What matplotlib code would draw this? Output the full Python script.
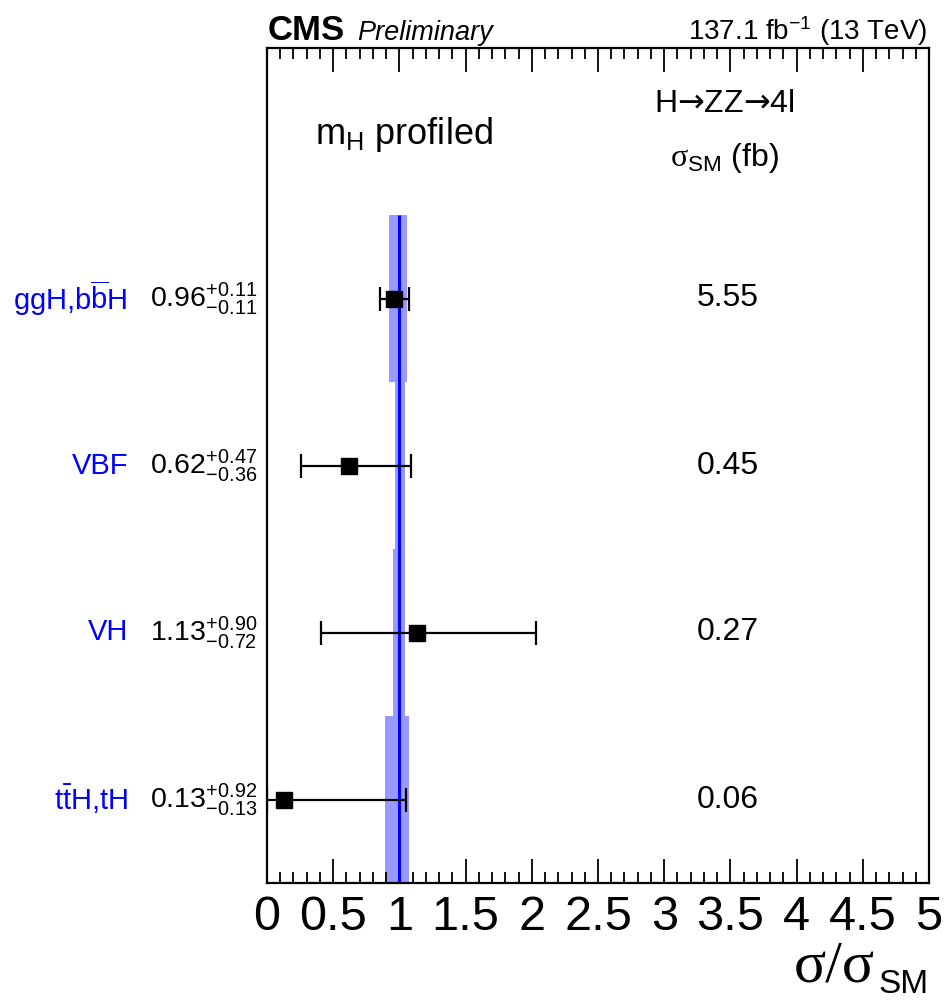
import matplotlib
matplotlib.use("Agg")
import matplotlib.pyplot as plt
from matplotlib.transforms import blended_transform_factory
from matplotlib.ticker import MultipleLocator

plt.rcParams['font.family'] = ['Liberation Sans', 'DejaVu Sans']
plt.rcParams['mathtext.fontset'] = 'custom'
plt.rcParams['mathtext.rm'] = 'Liberation Sans'
plt.rcParams['mathtext.it'] = 'Liberation Sans:italic'
plt.rcParams['mathtext.bf'] = 'Liberation Sans:bold'
plt.rcParams['mathtext.sf'] = 'DejaVu Sans'
plt.rcParams['mathtext.cal'] = 'Liberation Serif'

# ---- data (top to bottom) ----
categories = [r'ggH,b$\overline{\mathrm{b}}$H', 'VBF', 'VH', r't$\bar{\mathrm{t}}$H,tH']
mu = [0.96, 0.62, 1.13, 0.13]
err_up = [0.11, 0.47, 0.90, 0.92]
err_dn = [0.11, 0.36, 0.72, 0.13]
sigma_sm = ['5.55', '0.45', '0.27', '0.06']
theo_lo = [0.92, 0.965, 0.95, 0.895]
theo_hi = [1.06, 1.04, 1.04, 1.075]
sm_value = 1.0
xticks = [0, 0.5, 1, 1.5, 2, 2.5, 3, 3.5, 4, 4.5, 5]
xticklabels = ['0', '0.5', '1', '1.5', '2', '2.5', '3', '3.5', '4', '4.5', '5']

W, H = 944, 1000
fig = plt.figure(figsize=(W / 100, H / 100), dpi=100)
ax = fig.add_axes([267 / W, 1 - 883 / H, (929 - 267) / W, (883 - 48) / H])

n = len(categories)
ypos = [n - 1 - i + 0.5 for i in range(n)]

# theory bands
for i in range(n):
    ax.fill_betweenx([ypos[i] - 0.5, ypos[i] + 0.5], theo_lo[i], theo_hi[i],
                     color='#9999ff', lw=0, zorder=1)
ax.vlines(sm_value, 0, n, color='#0000ff', lw=2.2, zorder=2)

# measurements
ax.errorbar(mu, ypos, xerr=[err_dn, err_up], fmt='s', color='black',
            ms=11, elinewidth=1.6, capsize=8.5, capthick=1.6, zorder=3)

ax.set_xlim(0, 5)
ax.set_ylim(0, n + 1)
ax.set_xticks(xticks)
ax.set_xticklabels(xticklabels)
ax.xaxis.set_minor_locator(MultipleLocator(0.1))
ax.set_yticks([])
ax.tick_params(axis='x', which='both', direction='in', top=True, bottom=True,
               labelsize=35, pad=9, width=1.3)
ax.tick_params(axis='x', which='major', length=17)
ax.tick_params(axis='x', which='minor', length=8)
for s in ax.spines.values():
    s.set_linewidth(1.6)

trans = blended_transform_factory(ax.transAxes, ax.transData)
for i in range(n):
    ax.text((128 - 267) / (929 - 267), ypos[i], categories[i], transform=trans,
            ha='right', va='center', color='#0000ff', fontsize=21)
    ax.text((150 - 267) / (929 - 267), ypos[i],
            r'$\mathrm{%.2f}^{+%.2f}_{-%.2f}$' % (mu[i], err_up[i], err_dn[i]),
            transform=trans, ha='left', va='center', fontsize=20.5)
    ax.text((728 - 267) / (929 - 267), ypos[i], sigma_sm[i], transform=trans,
            ha='center', va='center', fontsize=23)

# header texts
ax.text((404 - 267) / (929 - 267), 1 - (135 - 48) / (883 - 48),
        r'$\mathrm{m}_{\mathrm{H}}$ profiled', transform=ax.transAxes,
        ha='center', va='center', fontsize=26)
ax.text((724 - 267) / (929 - 267), 1 - (104 - 48) / (883 - 48),
        r'H$\mathsf{→}$ZZ$\mathsf{→}$4l', transform=ax.transAxes,
        ha='center', va='center', fontsize=23)
ax.text((724 - 267) / (929 - 267), 1 - (158 - 48) / (883 - 48),
        r'$\mathcal{\sigma}_{\mathrm{SM}}$ (fb)', transform=ax.transAxes,
        ha='center', va='center', fontsize=23)

# title line
fig.text(268 / W, 1 - 40 / H, 'CMS', fontsize=25, fontweight='bold',
         ha='left', va='baseline')
fig.text(357 / W, 1 - 40 / H, 'Preliminary', fontsize=19.5, style='italic',
         ha='left', va='baseline')
fig.text(928 / W, 1 - 40 / H, r'137.1 fb$^{-1}$ (13 TeV)', fontsize=20,
         ha='right', va='baseline')

# x label
fig.text(875 / W, 1 - 982 / H, 'σ/σ', family='Liberation Serif', fontsize=43,
         ha='right', va='baseline')
fig.text(929 / W, 1 - 993 / H, 'SM', fontsize=24, ha='right', va='baseline')

fig.savefig('out.png', dpi=100)
